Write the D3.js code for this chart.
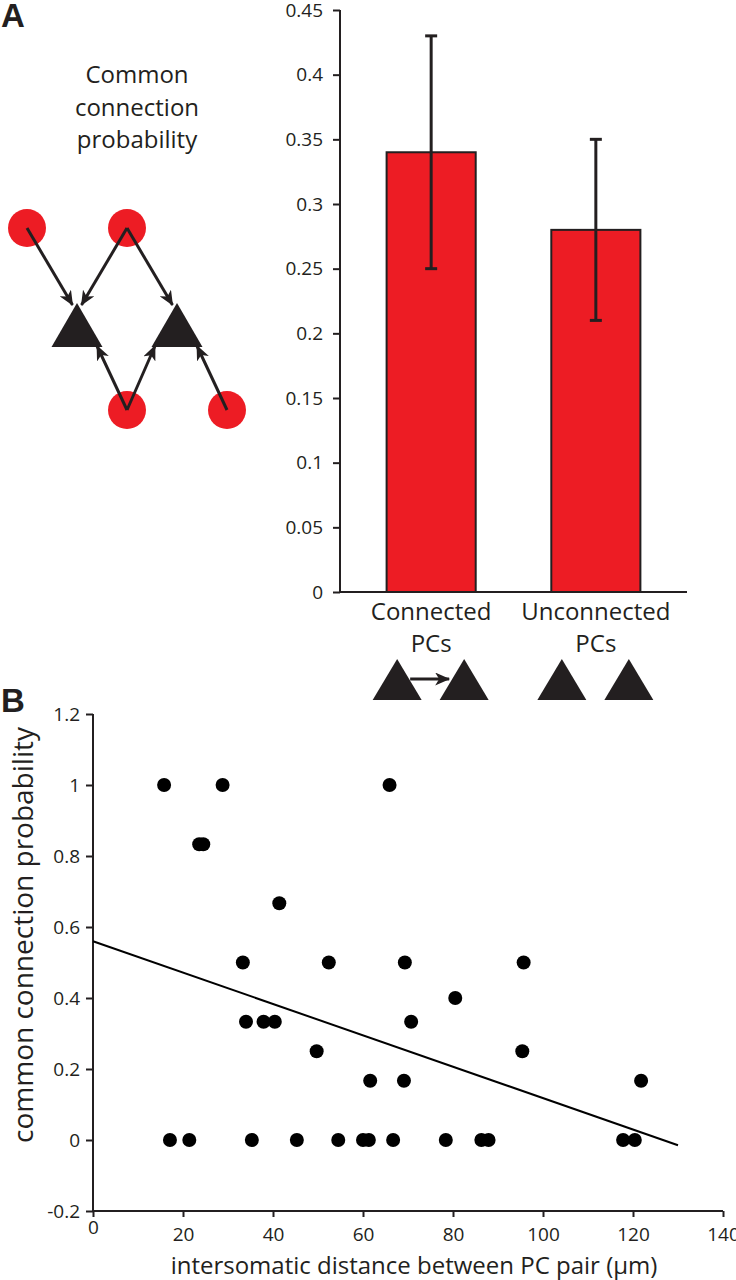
<!DOCTYPE html>
<html>
<head>
<meta charset="utf-8">
<script src="https://cdn.jsdelivr.net/npm/d3@7"></script>
<style>
  html, body { margin: 0; padding: 0; background: #fff; }
  svg { display: block; font-family: "Open Sans", "Noto Sans", sans-serif; }
</style>
</head>
<body>
<svg id="chart" width="736" height="1280"></svg>
<script>
// ---------- DATA ----------
// Panel A bar chart
const barCategories = ["Connected PCs", "Unconnected PCs"];
const barLabelLines = [["Connected", "PCs"], ["Unconnected", "PCs"]];
const barValues = [0.34, 0.28];
const barErrLow = [0.25, 0.21];
const barErrHigh = [0.43, 0.35];
const barTicks = [0, 0.05, 0.1, 0.15, 0.2, 0.25, 0.3, 0.35, 0.4, 0.45];
const barTickLabels = ["0", "0.05", "0.1", "0.15", "0.2", "0.25", "0.3", "0.35", "0.4", "0.45"];
const pairConnected = [true, false];

// Panel B scatter
const scatterX = [15.8, 28.8, 65.9, 23.6, 24.5, 41.4, 33.3, 52.4, 69.3, 95.7, 80.5,
  34.0, 37.9, 40.4, 70.7, 49.7, 95.4, 61.6, 69.1, 121.8,
  17.1, 21.4, 35.3, 45.3, 54.5, 60.0, 61.3, 66.7, 78.4, 86.3, 87.9, 117.8, 120.4];
const scatterY = [1, 1, 1, 0.833, 0.833, 0.667, 0.5, 0.5, 0.5, 0.5, 0.4,
  0.333, 0.333, 0.333, 0.333, 0.25, 0.25, 0.167, 0.167, 0.167,
  0, 0, 0, 0, 0, 0, 0, 0, 0, 0, 0, 0, 0];
const fitIntercept = 0.56;
const fitSlope = -0.00442;
const fitXRange = [0, 130];
const scatterXTicks = [0, 20, 40, 60, 80, 100, 120, 140];
const scatterXTickLabels = ["0", "20", "40", "60", "80", "100", "120", "140"];
const scatterYTicks = [-0.2, 0, 0.2, 0.4, 0.6, 0.8, 1, 1.2];
const scatterYTickLabels = ["-0.2", "0", "0.2", "0.4", "0.6", "0.8", "1", "1.2"];

// Schematic (grid units): presynaptic cells and PC triangles
const schemCells = [{c: 0, r: 0}, {c: 1, r: 0}, {c: 1, r: 1}, {c: 2, r: 1}];
const schemPCs = [0.5, 1.5];
// arrows: [from cell index, target triangle index, side]
const schemArrows = [[0, 0, "apex-l"], [1, 0, "apex-r"], [1, 1, "apex-l"],
  [2, 0, "base-r"], [2, 1, "base-l"], [3, 1, "base-r"]];

// ---------- DRAW ----------
const RED = "#ed1c24", DARK = "#231f20";
const FONT = "Open Sans";
const svg = d3.select("#chart");

const defs = svg.append("defs");
defs.append("marker")
  .attr("id", "barb").attr("viewBox", "0 -6.5 15 13")
  .attr("refX", 14).attr("refY", 0)
  .attr("markerWidth", 15).attr("markerHeight", 13)
  .attr("markerUnits", "userSpaceOnUse").attr("orient", "auto")
  .append("path").attr("d", "M0,-6.5 L15,0 L0,6.5 L4,0 Z").attr("fill", DARK);

// Panel letters
svg.append("text").attr("x", 1).attr("y", 27).text("A")
  .attr("font-size", 33).attr("font-weight", "bold").attr("font-family", "Liberation Sans, Arial, sans-serif").attr("fill", DARK);
svg.append("text").attr("x", 1).attr("y", 712).text("B")
  .attr("font-size", 33).attr("font-weight", "bold").attr("font-family", "Liberation Sans, Arial, sans-serif").attr("fill", DARK);

// ---- Schematic ----
const sx = d3.scaleLinear().domain([0, 2]).range([27, 227]);
const sy = d3.scaleLinear().domain([0, 1]).range([228, 410]);
const triTopY = 303, triBaseY = 347, triHalf = 25.5;
const titleLines = ["Common", "connection", "probability"];
svg.append("g").selectAll("text").data(titleLines).join("text")
  .attr("x", 137).attr("y", (d, i) => 83 + i * 32.5)
  .attr("text-anchor", "middle").attr("font-size", 24).attr("fill", DARK)
  .text(d => d);

svg.append("g").selectAll("circle").data(schemCells).join("circle")
  .attr("cx", d => sx(d.c)).attr("cy", d => sy(d.r)).attr("r", 19).attr("fill", RED);
svg.append("g").selectAll("path").data(schemPCs).join("path")
  .attr("d", c => `M${sx(c)},${triTopY} L${sx(c) + triHalf},${triBaseY} L${sx(c) - triHalf},${triBaseY} Z`)
  .attr("fill", DARK);
function arrowTarget(t, side) {
  const cx = sx(schemPCs[t]);
  if (side === "apex-l") return [cx - 4.5, triTopY + 2];
  if (side === "apex-r") return [cx + 4.5, triTopY + 2];
  if (side === "base-l") return [cx - 22, triBaseY - 1];
  return [cx + 20, triBaseY - 1];
}
svg.append("g").selectAll("line").data(schemArrows).join("line")
  .attr("x1", d => sx(schemCells[d[0]].c)).attr("y1", d => sy(schemCells[d[0]].r))
  .attr("x2", d => arrowTarget(d[1], d[2])[0]).attr("y2", d => arrowTarget(d[1], d[2])[1])
  .attr("stroke", DARK).attr("stroke-width", 3).attr("marker-end", "url(#barb)");

// ---- Bar chart ----
const yBar = d3.scaleLinear().domain([0, 0.45]).range([592, 10]);
const xBar = d3.scaleBand().domain(barCategories).range([340, 687])
  .paddingInner(0.459).paddingOuter(0.283);

const gBar = svg.append("g");
gBar.selectAll("rect").data(barValues).join("rect")
  .attr("x", (d, i) => xBar(barCategories[i])).attr("width", xBar.bandwidth())
  .attr("y", d => yBar(d)).attr("height", d => yBar(0) - yBar(d))
  .attr("fill", RED).attr("stroke", DARK).attr("stroke-width", 2);

const yAxisBar = d3.axisLeft(yBar).tickValues(barTicks)
  .tickFormat((d, i) => barTickLabels[i]).tickSize(7).tickPadding(10);
const gya = svg.append("g").attr("transform", "translate(340,0)").call(yAxisBar);
gya.attr("font-family", FONT);
gya.select(".domain").attr("stroke", DARK).attr("stroke-width", 2).attr("d", `M0,${yBar(0.45)}V${yBar(0)}`);
gya.selectAll(".tick line").attr("stroke", DARK).attr("stroke-width", 2);
gya.selectAll(".tick text").attr("font-size", 19).attr("fill", DARK);

svg.append("line").attr("x1", 340).attr("x2", 687).attr("y1", yBar(0)).attr("y2", yBar(0))
  .attr("stroke", DARK).attr("stroke-width", 2);

// error bars
const gErr = svg.append("g").attr("stroke", DARK).attr("stroke-width", 3);
barCategories.forEach((c, i) => {
  const cx = xBar(c) + xBar.bandwidth() / 2;
  gErr.append("line").attr("x1", cx).attr("x2", cx).attr("y1", yBar(barErrLow[i])).attr("y2", yBar(barErrHigh[i]));
  gErr.append("line").attr("x1", cx - 6).attr("x2", cx + 6).attr("y1", yBar(barErrLow[i])).attr("y2", yBar(barErrLow[i]));
  gErr.append("line").attr("x1", cx - 6).attr("x2", cx + 6).attr("y1", yBar(barErrHigh[i])).attr("y2", yBar(barErrHigh[i]));
});

// category labels
barCategories.forEach((c, i) => {
  const cx = xBar(c) + xBar.bandwidth() / 2;
  svg.append("g").selectAll("text").data(barLabelLines[i]).join("text")
    .attr("x", cx).attr("y", (d, j) => 620 + j * 32)
    .attr("text-anchor", "middle").attr("font-size", 24).attr("fill", DARK).text(d => d);
  // triangle pair icons
  const offs = [-34, 33];
  offs.forEach(o => {
    const tx = cx + o;
    svg.append("path").attr("d", `M${tx},659 L${tx + 24.5},700 L${tx - 24.5},700 Z`).attr("fill", DARK);
  });
  if (pairConnected[i]) {
    svg.append("line").attr("x1", cx - 21).attr("x2", cx + 18).attr("y1", 679).attr("y2", 679)
      .attr("stroke", DARK).attr("stroke-width", 3).attr("marker-end", "url(#barb)");
  }
});

// ---- Scatter ----
const xS = d3.scaleLinear().domain([0, 140]).range([93, 723]);
const yS = d3.scaleLinear().domain([-0.2, 1.2]).range([1211, 714]);

const gx = svg.append("g").attr("transform", `translate(0,${yS(-0.2)})`)
  .call(d3.axisBottom(xS).tickValues(scatterXTicks).tickFormat((d, i) => scatterXTickLabels[i]).tickSize(6).tickPadding(12));
gx.attr("font-family", FONT);
gx.select(".domain").attr("stroke", DARK).attr("stroke-width", 2).attr("d", `M${xS(0)},0H${xS(140)}`);
gx.selectAll(".tick line").attr("stroke", DARK).attr("stroke-width", 2);
gx.selectAll(".tick text").attr("font-size", 19).attr("fill", DARK)
  .attr("y", d => d === 0 ? 10 : 17);

const gy = svg.append("g").attr("transform", `translate(${xS(0)},0)`)
  .call(d3.axisLeft(yS).tickValues(scatterYTicks).tickFormat((d, i) => scatterYTickLabels[i]).tickSize(7).tickPadding(6));
gy.attr("font-family", FONT);
gy.select(".domain").attr("stroke", DARK).attr("stroke-width", 2).attr("d", `M0,${yS(1.2)}V${yS(-0.2)}`);
gy.selectAll(".tick line").attr("stroke", DARK).attr("stroke-width", 2);
gy.selectAll(".tick text").attr("font-size", 19).attr("fill", DARK);

// fit line
svg.append("line")
  .attr("x1", xS(fitXRange[0])).attr("y1", yS(fitIntercept + fitSlope * fitXRange[0]))
  .attr("x2", xS(fitXRange[1])).attr("y2", yS(fitIntercept + fitSlope * fitXRange[1]))
  .attr("stroke", "#000").attr("stroke-width", 2);

svg.append("g").selectAll("circle").data(scatterX).join("circle")
  .attr("cx", d => xS(d)).attr("cy", (d, i) => yS(scatterY[i])).attr("r", 7).attr("fill", "#000");

svg.append("text").attr("x", 414).attr("y", 1274).attr("text-anchor", "middle")
  .attr("font-size", 24).attr("fill", DARK).text("intersomatic distance between PC pair (µm)");
svg.append("text").attr("transform", "translate(33,935) rotate(-90)").attr("text-anchor", "middle")
  .attr("font-size", 28).attr("fill", DARK).text("common connection probability");
</script>
</body>
</html>
